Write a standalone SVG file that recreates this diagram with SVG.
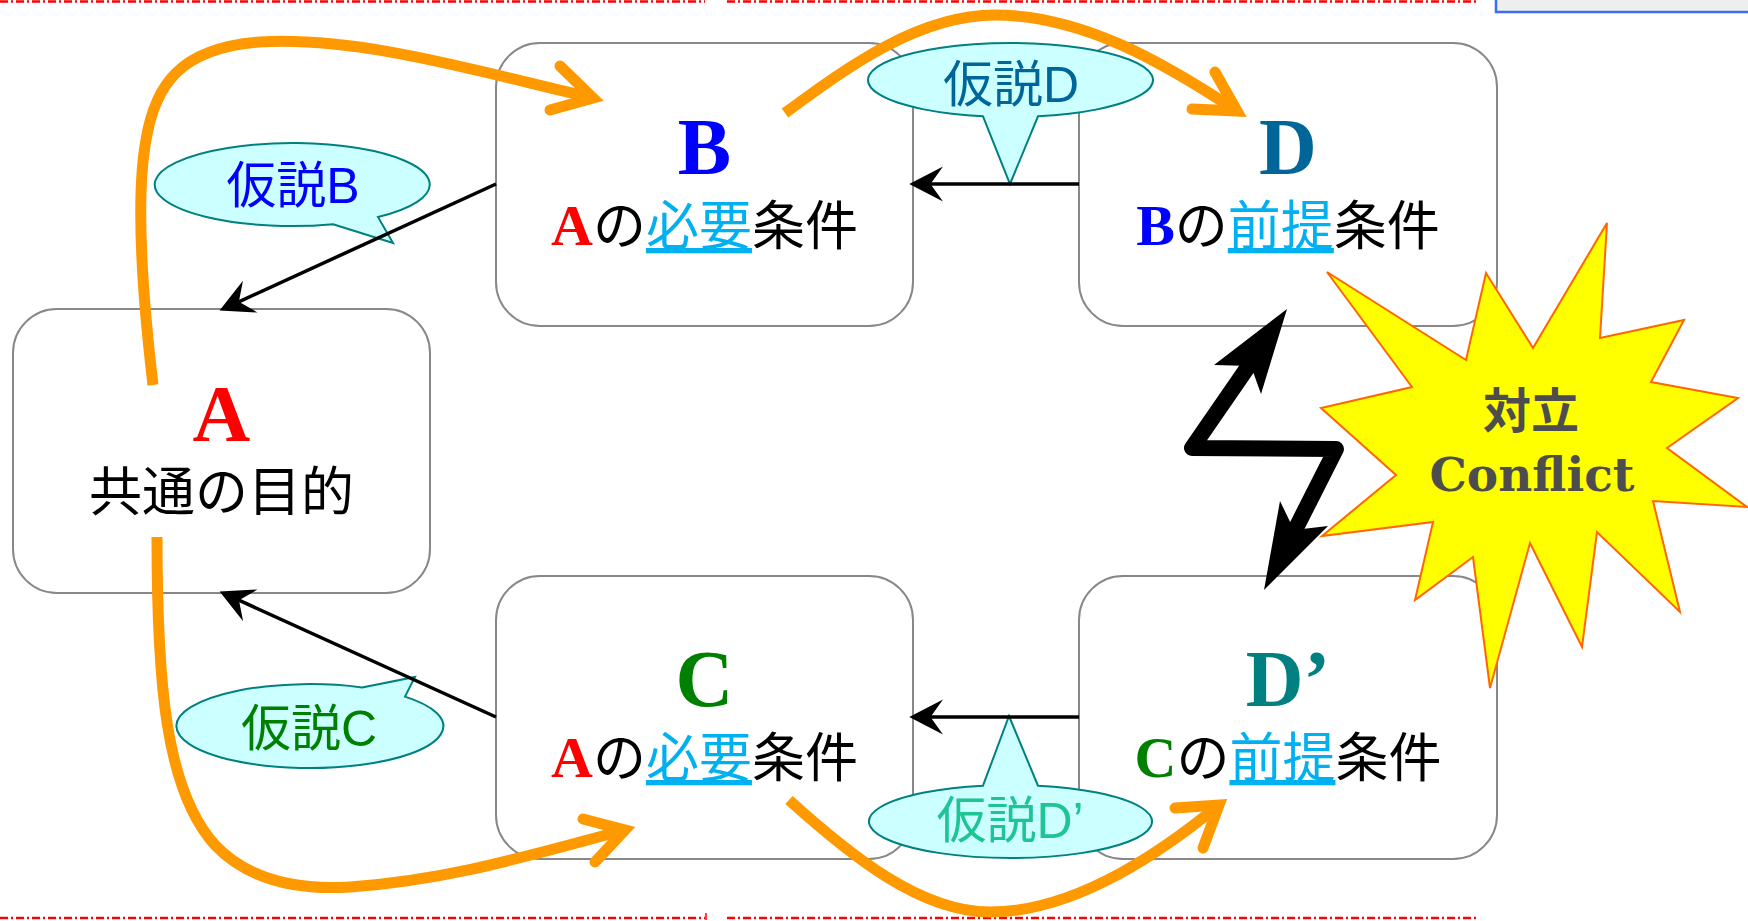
<svg xmlns="http://www.w3.org/2000/svg" width="1748" height="921" viewBox="0 0 1748 921">
<defs>
<style>
.box{fill:#fff;stroke:#888;stroke-width:2}
.big{font-family:'Liberation Serif','Times New Roman',serif;font-weight:bold;font-size:80px;text-anchor:middle}
.line{font-family:'Noto Sans CJK JP',sans-serif;font-size:53px;text-anchor:middle;fill:#000}
.ser{font-family:'Liberation Serif','Times New Roman',serif;font-weight:bold;font-size:58px}
.ul{fill:#00b0f0;text-decoration:underline}
.call{fill:#ccffff;stroke:#008080;stroke-width:2}
.ctext{font-family:'Liberation Sans','Noto Sans CJK JP',sans-serif;font-size:50px;text-anchor:middle}
.conn{fill:none;stroke:#000;stroke-width:3.5}
.or{fill:none;stroke:#ff9900;stroke-width:11;stroke-linecap:butt}
.orh{fill:none;stroke:#ff9900;stroke-width:11;stroke-linecap:round;stroke-linejoin:miter;stroke-miterlimit:10}
.dash{stroke:#ff0000;stroke-width:2.5;stroke-dasharray:8 3 2 3;fill:none}
</style>
<marker id="ah" markerUnits="userSpaceOnUse" markerWidth="40" markerHeight="40" viewBox="-15 -16 32 32" refX="0" refY="0" orient="auto" overflow="visible">
<path d="M15,0 L-12,-14 L-2,0 L-12,14 Z" fill="#000"/>
</marker>
</defs>
<rect x="0" y="0" width="1748" height="921" fill="#fff"/>

<g id="frame">
<line class="dash" x1="0" y1="1.5" x2="705" y2="1.5"/>
<line class="dash" x1="727" y1="1.5" x2="1477" y2="1.5"/>
<line class="dash" x1="0" y1="918" x2="705" y2="918"/>
<line class="dash" x1="727" y1="918" x2="1477" y2="918"/>
<line x1="706" y1="913" x2="706" y2="920" stroke="#ff0000" stroke-width="1.5"/>
<rect x="1496" y="-10" width="260" height="22" fill="#eeeeee" stroke="#3a6cf4" stroke-width="2.5"/>
</g>

<g id="node-A">
<rect class="box" x="13" y="309" width="417" height="284" rx="44"/>
<text class="big" x="221.5" y="441" fill="#ff0000">A</text>
<text class="line" x="221.5" y="511">共通の目的</text>
</g>

<g id="node-B">
<rect class="box" x="496" y="43" width="417" height="283" rx="44"/>
<text class="big" x="704.5" y="174" fill="#0000ff">B</text>
<text class="line" x="704.5" y="245"><tspan class="ser" fill="#ff0000">A</tspan>の<tspan class="ul">必要</tspan>条件</text>
</g>

<g id="node-C">
<rect class="box" x="496" y="576" width="417" height="283" rx="44"/>
<text class="big" x="704.5" y="706" fill="#008000">C</text>
<text class="line" x="704.5" y="777"><tspan class="ser" fill="#ff0000">A</tspan>の<tspan class="ul">必要</tspan>条件</text>
</g>

<g id="node-D">
<rect class="box" x="1079" y="43" width="418" height="283" rx="44"/>
<text class="big" x="1288" y="174" fill="#006699">D</text>
<text class="line" x="1288" y="245"><tspan class="ser" fill="#0000ff">B</tspan>の<tspan class="ul">前提</tspan>条件</text>
</g>

<g id="node-Dprime">
<rect class="box" x="1079" y="576" width="418" height="283" rx="44"/>
<text class="big" x="1288" y="706" fill="#008080">D’</text>
<text class="line" x="1288" y="777"><tspan class="ser" fill="#008000">C</tspan>の<tspan class="ul">前提</tspan>条件</text>
</g>

<g id="callout-B">
<path class="call" d="M333,224.2 L393,243 L378,217 A137.5,41.5 0 1 0 333,224.2 Z"/>
<text class="ctext" x="293" y="203" fill="#0000ff">仮説B</text>
</g>
<g id="callout-D">
<path class="call" d="M983,116.3 L1010,184 L1038,116.3 A142.5,37 0 1 0 983,116.3 Z"/>
<text class="ctext" x="1011" y="102" fill="#006699">仮説D</text>
</g>
<g id="callout-C">
<path class="call" d="M362,687.4 L415,677 L405,696.6 A133.5,42 0 1 1 362,687.4 Z"/>
<text class="ctext" x="309" y="746" fill="#008000">仮説C</text>
</g>
<g id="callout-Dprime">
<path class="call" d="M983,785.7 L1009,716 L1038,785.7 A141.5,36.5 0 1 1 983,785.7 Z"/>
<text class="ctext" x="1010" y="838" fill="#1fc495" font-size="48">仮説D’</text>
</g>

<g id="connectors">
<line class="conn" x1="496" y1="184" x2="236.6" y2="302.8" marker-end="url(#ah)"/>
<line class="conn" x1="496" y1="717" x2="236.7" y2="599.2" marker-end="url(#ah)"/>
<line class="conn" x1="1079" y1="184" x2="928" y2="184" marker-end="url(#ah)"/>
<line class="conn" x1="1079" y1="717" x2="928" y2="717" marker-end="url(#ah)"/>

<path class="or" d="M153,385 C143,300 135,200 146,140 C155,85 180,48 260,42 C360,36 480,72 593,98"/>
<polyline class="orh" points="560,66 593,98 550,110"/>
<path class="or" d="M157,537 C157,680 165,790 215,845 C250,882 300,890 350,887 C450,880 530,855 625,830"/>
<polyline class="orh" points="583,819 625,830 595,862"/>
<path class="or" d="M785,113 C850,65 920,15 995,15 C1080,15 1160,60 1237,111"/>
<polyline class="orh" points="1215,72 1237,111 1192,109"/>
<path class="or" d="M789,800 C850,855 920,912 990,912 C1080,912 1170,845 1219,805"/>
<polyline class="orh" points="1175,808 1219,805 1203,848"/>
</g>

<g id="conflict-bolt">
<polyline points="1250,364 1192,448 1336,449 1293,534" fill="none" stroke="#000" stroke-width="16" stroke-linejoin="round" stroke-linecap="butt"/>
<polygon points="1287,309 1261,394 1251,366 1214,365" fill="#000"/>
<polygon points="1264,590 1280,501 1294,530 1328,526" fill="#000"/>
</g>

<g id="conflict-star">
<polygon points="1607,223 1600,338 1684,320 1651,382 1738,398 1667,448 1747,507 1653,501 1680,612 1597,532 1582,647 1530,543 1490,688 1473,557 1415,600 1433,522 1322,536 1396,475 1321,408 1412,387 1327,272 1466,360 1486,273 1533,348" fill="#ffff00" stroke="#ff6600" stroke-width="2"/>
<text x="1531" y="428" font-family="'Noto Sans CJK JP',sans-serif" font-weight="bold" font-size="48" fill="#4d4d4d" text-anchor="middle">対立</text>
<text x="1532" y="491" font-family="'DejaVu Serif',serif" font-weight="bold" font-size="46" fill="#4d4d4d" text-anchor="middle" textLength="205" lengthAdjust="spacingAndGlyphs">Conflict</text>
</g>
</svg>
